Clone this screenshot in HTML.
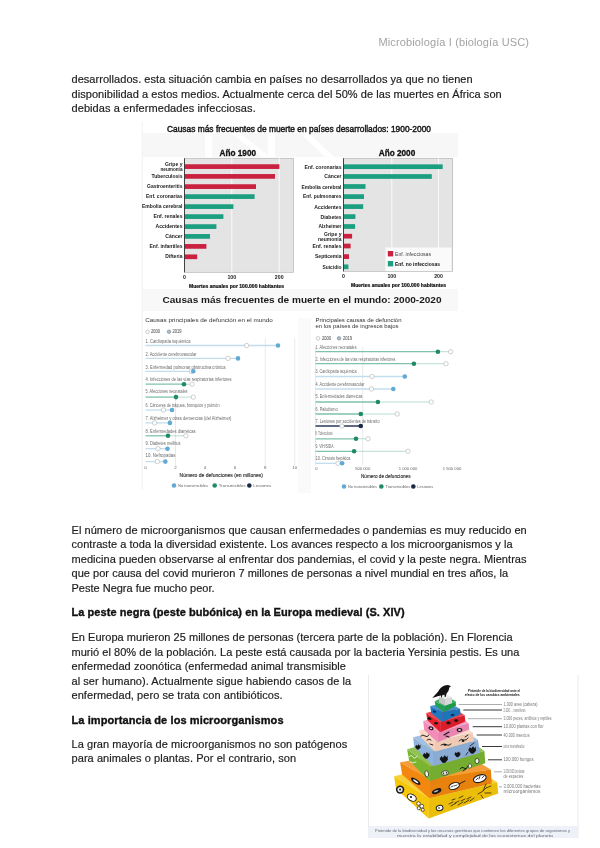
<!DOCTYPE html>
<html><head><meta charset="utf-8">
<style>
html,body{margin:0;padding:0;background:#fff;}
body{width:600px;height:848px;position:relative;overflow:hidden;font-family:"Liberation Sans",sans-serif;}
.t{position:absolute;left:71.5px;font-size:11px;line-height:14px;white-space:pre;color:#1c1c1c;-webkit-text-stroke:0.18px #1c1c1c;}
.b{font-weight:bold;color:#111;-webkit-text-stroke:0.35px #111;}
.hdr{position:absolute;left:378.5px;top:35px;font-size:11px;line-height:14px;white-space:pre;color:#a3a3a3;letter-spacing:0.13px;}
svg{position:absolute;left:0;top:0;}
#w{position:absolute;left:0;top:0;width:600px;height:848px;will-change:transform;}
</style></head><body>
<div id="w">
<svg width="600" height="848" viewBox="0 0 600 848" font-family="&quot;Liberation Sans&quot;, sans-serif"><rect x="142" y="121" width="316" height="370" fill="#fff"/>
<rect x="143" y="121" width="315" height="36" fill="#f7f7f8"/>
<rect x="143" y="289" width="315" height="22" fill="#f8f8f8"/>
<path d="M205,133 h7 v24 h-7 Z M231,133 h9 l30,24 h-9 Z M268,133 h7 v24 h-7 Z M300,133 h9 l25,24 h-9 Z M143,121 h315 v12 h-315 Z" fill="#fff"/>
<line x1="142.2" y1="122" x2="142.2" y2="490" stroke="#f0f0f0" stroke-width="1"/>
<text x="167" y="131.7" font-size="9.0" fill="#161616" text-anchor="start" font-weight="normal" textLength="264" lengthAdjust="spacingAndGlyphs" stroke="#161616" stroke-width="0.45">Causas más frecuentes de muerte en países desarrollados: 1900-2000</text>
<text x="237.8" y="156.1" font-size="8.6" fill="#111" text-anchor="middle" font-weight="bold" textLength="36.5" lengthAdjust="spacingAndGlyphs" stroke="#111" stroke-width="0.3">Año 1900</text>
<text x="397" y="156.1" font-size="8.6" fill="#111" text-anchor="middle" font-weight="bold" textLength="36.5" lengthAdjust="spacingAndGlyphs" stroke="#111" stroke-width="0.3">Año 2000</text>
<rect x="184.5" y="158.3" width="109" height="114" fill="#e4e4e4" stroke="#b4b4b4" stroke-width="0.7"/>
<line x1="231.8" y1="158.3" x2="231.8" y2="272.3" stroke="#f9f9f9" stroke-width="1"/>
<line x1="279.2" y1="158.3" x2="279.2" y2="272.3" stroke="#f9f9f9" stroke-width="1"/>
<rect x="184.5" y="164.25" width="94.9" height="4.7" fill="#c9213f"/>
<rect x="184.5" y="174.05" width="90.5" height="4.7" fill="#c9213f"/>
<rect x="184.5" y="184.25" width="71.5" height="4.7" fill="#c9213f"/>
<rect x="184.5" y="194.25" width="70.1" height="4.7" fill="#1c9e80"/>
<rect x="184.5" y="204.25" width="48.9" height="4.7" fill="#1c9e80"/>
<rect x="184.5" y="214.25" width="38.9" height="4.7" fill="#1c9e80"/>
<rect x="184.5" y="224.25" width="31.9" height="4.7" fill="#1c9e80"/>
<rect x="184.5" y="234.05" width="25.5" height="4.7" fill="#1c9e80"/>
<rect x="184.5" y="244.05" width="21.9" height="4.7" fill="#c9213f"/>
<rect x="184.5" y="254.45" width="12.7" height="4.7" fill="#c9213f"/>
<line x1="184.5" y1="158.3" x2="184.5" y2="272.3" stroke="#333" stroke-width="0.9"/>
<text x="182.5" y="165.8" font-size="5.2" fill="#222" text-anchor="end" font-weight="bold" textLength="17.5" lengthAdjust="spacingAndGlyphs">Gripe y</text>
<text x="182.5" y="171.4" font-size="5.2" fill="#222" text-anchor="end" font-weight="bold" textLength="22" lengthAdjust="spacingAndGlyphs">neumonía</text>
<text x="182.5" y="178.20000000000002" font-size="5.2" fill="#222" text-anchor="end" font-weight="bold" textLength="31" lengthAdjust="spacingAndGlyphs">Tuberculosis</text>
<text x="182.5" y="188.4" font-size="5.2" fill="#222" text-anchor="end" font-weight="bold" textLength="35.5" lengthAdjust="spacingAndGlyphs">Gastroenteritis</text>
<text x="182.5" y="198.4" font-size="5.2" fill="#222" text-anchor="end" font-weight="bold" textLength="36.5" lengthAdjust="spacingAndGlyphs">Enf. coronarias</text>
<text x="182.5" y="208.4" font-size="5.2" fill="#222" text-anchor="end" font-weight="bold" textLength="40.5" lengthAdjust="spacingAndGlyphs">Embolia cerebral</text>
<text x="182.5" y="218.4" font-size="5.2" fill="#222" text-anchor="end" font-weight="bold" textLength="29" lengthAdjust="spacingAndGlyphs">Enf. renales</text>
<text x="182.5" y="228.4" font-size="5.2" fill="#222" text-anchor="end" font-weight="bold" textLength="27" lengthAdjust="spacingAndGlyphs">Accidentes</text>
<text x="182.5" y="238.20000000000002" font-size="5.2" fill="#222" text-anchor="end" font-weight="bold" textLength="17.2" lengthAdjust="spacingAndGlyphs">Cáncer</text>
<text x="182.5" y="248.20000000000002" font-size="5.2" fill="#222" text-anchor="end" font-weight="bold" textLength="33" lengthAdjust="spacingAndGlyphs">Enf. infantiles</text>
<text x="182.5" y="258.40000000000003" font-size="5.2" fill="#222" text-anchor="end" font-weight="bold" textLength="17.2" lengthAdjust="spacingAndGlyphs">Difteria</text>
<text x="184.5" y="279.3" font-size="5.2" fill="#222" text-anchor="middle" font-weight="bold">0</text>
<text x="231.8" y="279.3" font-size="5.2" fill="#222" text-anchor="middle" font-weight="bold">100</text>
<text x="279.2" y="279.3" font-size="5.2" fill="#222" text-anchor="middle" font-weight="bold">200</text>
<text x="189" y="287.90000000000003" font-size="5.0" fill="#111" text-anchor="start" font-weight="bold" textLength="95" lengthAdjust="spacingAndGlyphs" stroke="#111" stroke-width="0.2">Muertes anuales por 100.000 habitantes</text>
<rect x="343.5" y="158.3" width="109" height="113" fill="#e4e4e4" stroke="#b4b4b4" stroke-width="0.7"/>
<line x1="391.8" y1="158.3" x2="391.8" y2="271.3" stroke="#f9f9f9" stroke-width="1"/>
<line x1="438.5" y1="158.3" x2="438.5" y2="271.3" stroke="#f9f9f9" stroke-width="1"/>
<rect x="343.5" y="164.35" width="99.2" height="4.7" fill="#1c9e80"/>
<rect x="343.5" y="174.15" width="88.3" height="4.7" fill="#1c9e80"/>
<rect x="343.5" y="184.15" width="22.0" height="4.7" fill="#1c9e80"/>
<rect x="343.5" y="194.25" width="20.5" height="4.7" fill="#1c9e80"/>
<rect x="343.5" y="204.25" width="19.7" height="4.7" fill="#1c9e80"/>
<rect x="343.5" y="214.25" width="11.9" height="4.7" fill="#1c9e80"/>
<rect x="343.5" y="224.15" width="11.6" height="4.7" fill="#1c9e80"/>
<rect x="343.5" y="233.85" width="8.6" height="4.7" fill="#c9213f"/>
<rect x="343.5" y="243.65" width="7.1" height="4.7" fill="#c9213f"/>
<rect x="343.5" y="254.25" width="5.5" height="4.7" fill="#c9213f"/>
<rect x="343.5" y="264.45" width="4.9" height="4.7" fill="#1c9e80"/>
<line x1="343.5" y1="158.3" x2="343.5" y2="271.3" stroke="#333" stroke-width="0.9"/>
<text x="341.5" y="168.70000000000002" font-size="5.2" fill="#222" text-anchor="end" font-weight="bold" textLength="37" lengthAdjust="spacingAndGlyphs">Enf. coronarias</text>
<text x="341.5" y="178.20000000000002" font-size="5.2" fill="#222" text-anchor="end" font-weight="bold" textLength="17.2" lengthAdjust="spacingAndGlyphs">Cáncer</text>
<text x="341.5" y="188.60000000000002" font-size="5.2" fill="#222" text-anchor="end" font-weight="bold" textLength="40" lengthAdjust="spacingAndGlyphs">Embolia cerebral</text>
<text x="341.5" y="198.4" font-size="5.2" fill="#222" text-anchor="end" font-weight="bold" textLength="38.5" lengthAdjust="spacingAndGlyphs">Enf. pulmonares</text>
<text x="341.5" y="208.60000000000002" font-size="5.2" fill="#222" text-anchor="end" font-weight="bold" textLength="27.3" lengthAdjust="spacingAndGlyphs">Accidentes</text>
<text x="341.5" y="218.5" font-size="5.2" fill="#222" text-anchor="end" font-weight="bold" textLength="21" lengthAdjust="spacingAndGlyphs">Diabetes</text>
<text x="341.5" y="228.3" font-size="5.2" fill="#222" text-anchor="end" font-weight="bold" textLength="23" lengthAdjust="spacingAndGlyphs">Alzheimer</text>
<text x="341.5" y="235.60000000000002" font-size="5.2" fill="#222" text-anchor="end" font-weight="bold" textLength="17.5" lengthAdjust="spacingAndGlyphs">Gripe y</text>
<text x="341.5" y="241.20000000000002" font-size="5.2" fill="#222" text-anchor="end" font-weight="bold" textLength="23.5" lengthAdjust="spacingAndGlyphs">neumonía</text>
<text x="341.5" y="248.0" font-size="5.2" fill="#222" text-anchor="end" font-weight="bold" textLength="29" lengthAdjust="spacingAndGlyphs">Enf. renales</text>
<text x="341.5" y="258.40000000000003" font-size="5.2" fill="#222" text-anchor="end" font-weight="bold" textLength="26.5" lengthAdjust="spacingAndGlyphs">Septicemia</text>
<text x="341.5" y="268.8" font-size="5.2" fill="#222" text-anchor="end" font-weight="bold" textLength="19" lengthAdjust="spacingAndGlyphs">Suicidio</text>
<text x="343.5" y="278.3" font-size="5.2" fill="#222" text-anchor="middle" font-weight="bold">0</text>
<text x="391.8" y="278.3" font-size="5.2" fill="#222" text-anchor="middle" font-weight="bold">100</text>
<text x="438.5" y="278.3" font-size="5.2" fill="#222" text-anchor="middle" font-weight="bold">200</text>
<text x="351" y="286.90000000000003" font-size="5.0" fill="#111" text-anchor="start" font-weight="bold" textLength="95" lengthAdjust="spacingAndGlyphs" stroke="#111" stroke-width="0.2">Muertes anuales por 100.000 habitantes</text>
<rect x="385.5" y="247.5" width="66" height="23.5" fill="#fafafa"/>
<rect x="387.8" y="251" width="5.4" height="5.4" fill="#c9213f"/>
<rect x="387.8" y="261" width="5.4" height="5.4" fill="#1c9e80"/>
<text x="395" y="255.6" font-size="4.8" fill="#444" text-anchor="start" font-weight="normal" textLength="36" lengthAdjust="spacingAndGlyphs">Enf. infecciosas</text>
<text x="395" y="265.6" font-size="5.0" fill="#111" text-anchor="start" font-weight="bold" textLength="45" lengthAdjust="spacingAndGlyphs">Enf. no infecciosas</text>
<rect x="298" y="318" width="13" height="175" fill="#fafafa"/>
<text x="162.5" y="303.1" font-size="9.3" fill="#1a1a1a" text-anchor="start" font-weight="bold" textLength="279" lengthAdjust="spacingAndGlyphs">Causas más frecuentes de muerte en el mundo: 2000-2020</text>
<text x="145.3" y="321.6" font-size="6.0" fill="#333" text-anchor="start" font-weight="normal" textLength="127.5" lengthAdjust="spacingAndGlyphs">Causas principales de defunción en el mundo</text>
<circle cx="147.5" cy="331.7" r="1.8" fill="#fff" stroke="#999" stroke-width="0.5"/>
<text x="151" y="333.3" font-size="4.6" fill="#666" text-anchor="start" font-weight="normal" textLength="9" lengthAdjust="spacingAndGlyphs" stroke="#666" stroke-width="0.1">2000</text>
<circle cx="169" cy="331.7" r="1.8" fill="#9bbfd8" stroke="#777" stroke-width="0.5"/>
<text x="172.5" y="333.3" font-size="4.6" fill="#666" text-anchor="start" font-weight="normal" textLength="9" lengthAdjust="spacingAndGlyphs" stroke="#666" stroke-width="0.1">2019</text>
<line x1="175.5" y1="392" x2="175.5" y2="466" stroke="#dcdcdc" stroke-width="0.6"/>
<line x1="265.3" y1="338" x2="265.3" y2="466" stroke="#dcdcdc" stroke-width="0.6"/>
<line x1="294.7" y1="338" x2="294.7" y2="466" stroke="#dcdcdc" stroke-width="0.6"/>
<text x="145.5" y="342.6" font-size="4.8" fill="#6a6a6a" text-anchor="start" font-weight="normal" textLength="45" lengthAdjust="spacingAndGlyphs">1. Cardiopatía isquémica</text>
<line x1="145.5" y1="345.5" x2="278" y2="345.5" stroke="#c2ddee" stroke-width="1.3"/>
<circle cx="246.7" cy="345.5" r="2.2" fill="#fff" stroke="#b0b0b0" stroke-width="0.6"/>
<circle cx="278" cy="345.5" r="2.3" fill="#62a9d4"/>
<text x="145.5" y="355.90000000000003" font-size="4.8" fill="#6a6a6a" text-anchor="start" font-weight="normal" textLength="51" lengthAdjust="spacingAndGlyphs">2. Accidente cerebrovascular</text>
<line x1="145.5" y1="358.4" x2="238" y2="358.4" stroke="#c2ddee" stroke-width="1.3"/>
<circle cx="228" cy="358.4" r="2.2" fill="#fff" stroke="#b0b0b0" stroke-width="0.6"/>
<circle cx="238" cy="358.4" r="2.3" fill="#62a9d4"/>
<text x="145.5" y="368.5" font-size="4.8" fill="#6a6a6a" text-anchor="start" font-weight="normal" textLength="80" lengthAdjust="spacingAndGlyphs">3. Enfermedad pulmonar obstructiva crónica</text>
<line x1="145.5" y1="371.3" x2="193.3" y2="371.3" stroke="#c2ddee" stroke-width="1.3"/>
<circle cx="191.5" cy="371.3" r="2.2" fill="#fff" stroke="#b0b0b0" stroke-width="0.6"/>
<circle cx="193.3" cy="371.3" r="2.3" fill="#62a9d4"/>
<text x="145.5" y="381.3" font-size="4.8" fill="#6a6a6a" text-anchor="start" font-weight="normal" textLength="86" lengthAdjust="spacingAndGlyphs">4. Infecciones de las vías respiratorias inferiores</text>
<line x1="145.5" y1="384.2" x2="184" y2="384.2" stroke="#7fc3a9" stroke-width="1.3"/>
<line x1="184" y1="384.2" x2="192" y2="384.2" stroke="#7fc3a9" stroke-width="0.7" opacity="0.8"/>
<circle cx="192" cy="384.2" r="2.2" fill="#fff" stroke="#b0b0b0" stroke-width="0.6"/>
<circle cx="184" cy="384.2" r="2.3" fill="#1f8a68"/>
<text x="145.5" y="393.3" font-size="4.8" fill="#6a6a6a" text-anchor="start" font-weight="normal" textLength="42" lengthAdjust="spacingAndGlyphs">5. Afecciones neonatales</text>
<line x1="145.5" y1="397.1" x2="176" y2="397.1" stroke="#7fc3a9" stroke-width="1.3"/>
<line x1="176" y1="397.1" x2="193.3" y2="397.1" stroke="#7fc3a9" stroke-width="0.7" opacity="0.8"/>
<circle cx="193.3" cy="397.1" r="2.2" fill="#fff" stroke="#b0b0b0" stroke-width="0.6"/>
<circle cx="176" cy="397.1" r="2.3" fill="#1f8a68"/>
<text x="145.5" y="407.1" font-size="4.8" fill="#6a6a6a" text-anchor="start" font-weight="normal" textLength="74" lengthAdjust="spacingAndGlyphs">6. Cánceres de tráquea, bronquios y pulmón</text>
<line x1="145.5" y1="410" x2="172" y2="410" stroke="#c2ddee" stroke-width="1.3"/>
<circle cx="163.5" cy="410" r="2.2" fill="#fff" stroke="#b0b0b0" stroke-width="0.6"/>
<circle cx="172" cy="410" r="2.3" fill="#62a9d4"/>
<text x="145.5" y="419.6" font-size="4.8" fill="#6a6a6a" text-anchor="start" font-weight="normal" textLength="86" lengthAdjust="spacingAndGlyphs">7. Alzheimer y otras demencias (del Alzheimer)</text>
<line x1="145.5" y1="422.9" x2="169.9" y2="422.9" stroke="#c2ddee" stroke-width="1.3"/>
<circle cx="154.7" cy="422.9" r="2.2" fill="#fff" stroke="#b0b0b0" stroke-width="0.6"/>
<circle cx="169.9" cy="422.9" r="2.3" fill="#62a9d4"/>
<text x="145.5" y="432.90000000000003" font-size="4.8" fill="#6a6a6a" text-anchor="start" font-weight="normal" textLength="50" lengthAdjust="spacingAndGlyphs">8. Enfermedades diarreicas</text>
<line x1="145.5" y1="435.8" x2="168" y2="435.8" stroke="#7fc3a9" stroke-width="1.3"/>
<line x1="168" y1="435.8" x2="185.9" y2="435.8" stroke="#7fc3a9" stroke-width="0.7" opacity="0.8"/>
<circle cx="185.9" cy="435.8" r="2.2" fill="#fff" stroke="#b0b0b0" stroke-width="0.6"/>
<circle cx="168" cy="435.8" r="2.3" fill="#1f8a68"/>
<text x="145.5" y="444.90000000000003" font-size="4.8" fill="#6a6a6a" text-anchor="start" font-weight="normal" textLength="35" lengthAdjust="spacingAndGlyphs">9. Diabetes mellitus</text>
<line x1="145.5" y1="448.7" x2="167.5" y2="448.7" stroke="#c2ddee" stroke-width="1.3"/>
<circle cx="158" cy="448.7" r="2.2" fill="#fff" stroke="#b0b0b0" stroke-width="0.6"/>
<circle cx="167.5" cy="448.7" r="2.3" fill="#62a9d4"/>
<text x="145.5" y="456.90000000000003" font-size="4.8" fill="#6a6a6a" text-anchor="start" font-weight="normal" textLength="30" lengthAdjust="spacingAndGlyphs">10. Nefropatías</text>
<line x1="145.5" y1="461.6" x2="165.3" y2="461.6" stroke="#c2ddee" stroke-width="1.3"/>
<circle cx="157.3" cy="461.6" r="2.2" fill="#fff" stroke="#b0b0b0" stroke-width="0.6"/>
<circle cx="165.3" cy="461.6" r="2.3" fill="#62a9d4"/>
<text x="145.5" y="469" font-size="4.4" fill="#666" text-anchor="middle" font-weight="normal">0</text>
<text x="175.5" y="469" font-size="4.4" fill="#666" text-anchor="middle" font-weight="normal">2</text>
<text x="205" y="469" font-size="4.4" fill="#666" text-anchor="middle" font-weight="normal">4</text>
<text x="235" y="469" font-size="4.4" fill="#666" text-anchor="middle" font-weight="normal">6</text>
<text x="265.3" y="469" font-size="4.4" fill="#666" text-anchor="middle" font-weight="normal">8</text>
<text x="294.7" y="469" font-size="4.4" fill="#666" text-anchor="middle" font-weight="normal">10</text>
<text x="179.5" y="476.6" font-size="5.2" fill="#333" text-anchor="start" font-weight="normal" textLength="83.5" lengthAdjust="spacingAndGlyphs" stroke="#333" stroke-width="0.15">Número de defunciones (en millones)</text>
<circle cx="174" cy="485.5" r="2.3" fill="#62a9d4"/>
<text x="178" y="487" font-size="4.4" fill="#666" text-anchor="start" font-weight="normal" textLength="30" lengthAdjust="spacingAndGlyphs">No transmisibles</text>
<circle cx="214.7" cy="485.5" r="2.3" fill="#1f8a68"/>
<text x="218.7" y="487" font-size="4.4" fill="#666" text-anchor="start" font-weight="normal" textLength="27" lengthAdjust="spacingAndGlyphs">Transmisibles</text>
<circle cx="249.3" cy="485.5" r="2.3" fill="#1b2a47"/>
<text x="253.3" y="487" font-size="4.4" fill="#666" text-anchor="start" font-weight="normal" textLength="18" lengthAdjust="spacingAndGlyphs">Lesiones</text>
<text x="315.5" y="321.6" font-size="6.0" fill="#333" text-anchor="start" font-weight="normal" textLength="86" lengthAdjust="spacingAndGlyphs">Principales causas de defunción</text>
<text x="315.5" y="327.7" font-size="6.0" fill="#333" text-anchor="start" font-weight="normal" textLength="83" lengthAdjust="spacingAndGlyphs">en los países de ingresos bajos</text>
<circle cx="318" cy="338.3" r="1.8" fill="#fff" stroke="#999" stroke-width="0.5"/>
<text x="322" y="339.9" font-size="4.6" fill="#666" text-anchor="start" font-weight="normal" textLength="9" lengthAdjust="spacingAndGlyphs" stroke="#666" stroke-width="0.1">2000</text>
<circle cx="339" cy="338.3" r="1.8" fill="#9bbfd8" stroke="#777" stroke-width="0.5"/>
<text x="343" y="339.9" font-size="4.6" fill="#666" text-anchor="start" font-weight="normal" textLength="9" lengthAdjust="spacingAndGlyphs" stroke="#666" stroke-width="0.1">2019</text>
<line x1="315.5" y1="347" x2="315.5" y2="465" stroke="#dcdcdc" stroke-width="0.6"/>
<line x1="362.7" y1="347" x2="362.7" y2="465" stroke="#dcdcdc" stroke-width="0.6"/>
<text x="315.5" y="348.6" font-size="4.8" fill="#6a6a6a" text-anchor="start" font-weight="normal" textLength="41" lengthAdjust="spacingAndGlyphs">1. Afecciones neonatales</text>
<line x1="315.5" y1="351.7" x2="437.9" y2="351.7" stroke="#7fc3a9" stroke-width="1.3"/>
<line x1="437.9" y1="351.7" x2="450.7" y2="351.7" stroke="#7fc3a9" stroke-width="0.7" opacity="0.8"/>
<circle cx="450.7" cy="351.7" r="2.2" fill="#fff" stroke="#b0b0b0" stroke-width="0.6"/>
<circle cx="437.9" cy="351.7" r="2.3" fill="#1f8a68"/>
<text x="315.5" y="361.3" font-size="4.8" fill="#6a6a6a" text-anchor="start" font-weight="normal" textLength="80" lengthAdjust="spacingAndGlyphs">2. Infecciones de las vías respiratorias inferiores</text>
<line x1="315.5" y1="363.7" x2="413.9" y2="363.7" stroke="#7fc3a9" stroke-width="1.3"/>
<line x1="413.9" y1="363.7" x2="446" y2="363.7" stroke="#7fc3a9" stroke-width="0.7" opacity="0.8"/>
<circle cx="446" cy="363.7" r="2.2" fill="#fff" stroke="#b0b0b0" stroke-width="0.6"/>
<circle cx="413.9" cy="363.7" r="2.3" fill="#1f8a68"/>
<text x="315.5" y="372.6" font-size="4.8" fill="#6a6a6a" text-anchor="start" font-weight="normal" textLength="41" lengthAdjust="spacingAndGlyphs">3. Cardiopatía isquémica</text>
<line x1="315.5" y1="376.5" x2="404.8" y2="376.5" stroke="#c2ddee" stroke-width="1.3"/>
<circle cx="372" cy="376.5" r="2.2" fill="#fff" stroke="#b0b0b0" stroke-width="0.6"/>
<circle cx="404.8" cy="376.5" r="2.3" fill="#62a9d4"/>
<text x="315.5" y="385.8" font-size="4.8" fill="#6a6a6a" text-anchor="start" font-weight="normal" textLength="49" lengthAdjust="spacingAndGlyphs">4. Accidente cerebrovascular</text>
<line x1="315.5" y1="389" x2="393.3" y2="389" stroke="#c2ddee" stroke-width="1.3"/>
<circle cx="371.5" cy="389" r="2.2" fill="#fff" stroke="#b0b0b0" stroke-width="0.6"/>
<circle cx="393.3" cy="389" r="2.3" fill="#62a9d4"/>
<text x="315.5" y="398.3" font-size="4.8" fill="#6a6a6a" text-anchor="start" font-weight="normal" textLength="47" lengthAdjust="spacingAndGlyphs">5. Enfermedades diarreicas</text>
<line x1="315.5" y1="402" x2="377.9" y2="402" stroke="#7fc3a9" stroke-width="1.3"/>
<line x1="377.9" y1="402" x2="431.2" y2="402" stroke="#7fc3a9" stroke-width="0.7" opacity="0.8"/>
<circle cx="431.2" cy="402" r="2.2" fill="#fff" stroke="#b0b0b0" stroke-width="0.6"/>
<circle cx="377.9" cy="402" r="2.3" fill="#1f8a68"/>
<text x="315.5" y="410.8" font-size="4.8" fill="#6a6a6a" text-anchor="start" font-weight="normal" textLength="22" lengthAdjust="spacingAndGlyphs">6. Paludismo</text>
<line x1="315.5" y1="414" x2="360.8" y2="414" stroke="#7fc3a9" stroke-width="1.3"/>
<line x1="360.8" y1="414" x2="397.3" y2="414" stroke="#7fc3a9" stroke-width="0.7" opacity="0.8"/>
<circle cx="397.3" cy="414" r="2.2" fill="#fff" stroke="#b0b0b0" stroke-width="0.6"/>
<circle cx="360.8" cy="414" r="2.3" fill="#1f8a68"/>
<text x="315.5" y="423.1" font-size="4.8" fill="#6a6a6a" text-anchor="start" font-weight="normal" textLength="64" lengthAdjust="spacingAndGlyphs">7. Lesiones por accidentes de tránsito</text>
<line x1="315.5" y1="426" x2="360.8" y2="426" stroke="#2a3a58" stroke-width="1.5"/>
<circle cx="341.9" cy="426" r="2.2" fill="#fff" stroke="#b0b0b0" stroke-width="0.6"/>
<circle cx="360.8" cy="426" r="2.3" fill="#1b2a47"/>
<text x="315.5" y="435.1" font-size="4.8" fill="#6a6a6a" text-anchor="start" font-weight="normal" textLength="17" lengthAdjust="spacingAndGlyphs">8. Tuberculosis</text>
<line x1="315.5" y1="438.8" x2="356" y2="438.8" stroke="#7fc3a9" stroke-width="1.3"/>
<line x1="356" y1="438.8" x2="368" y2="438.8" stroke="#7fc3a9" stroke-width="0.7" opacity="0.8"/>
<circle cx="368" cy="438.8" r="2.2" fill="#fff" stroke="#b0b0b0" stroke-width="0.6"/>
<circle cx="356" cy="438.8" r="2.3" fill="#1f8a68"/>
<text x="315.5" y="448.1" font-size="4.8" fill="#6a6a6a" text-anchor="start" font-weight="normal" textLength="18" lengthAdjust="spacingAndGlyphs">9. VIH/SIDA</text>
<line x1="315.5" y1="451.3" x2="354.1" y2="451.3" stroke="#7fc3a9" stroke-width="1.3"/>
<line x1="354.1" y1="451.3" x2="408" y2="451.3" stroke="#7fc3a9" stroke-width="0.7" opacity="0.8"/>
<circle cx="408" cy="451.3" r="2.2" fill="#fff" stroke="#b0b0b0" stroke-width="0.6"/>
<circle cx="354.1" cy="451.3" r="2.3" fill="#1f8a68"/>
<text x="315.5" y="460.40000000000003" font-size="4.8" fill="#6a6a6a" text-anchor="start" font-weight="normal" textLength="35" lengthAdjust="spacingAndGlyphs">10. Cirrosis hepática</text>
<line x1="315.5" y1="463.3" x2="342.1" y2="463.3" stroke="#c2ddee" stroke-width="1.3"/>
<circle cx="338" cy="463.3" r="2.2" fill="#fff" stroke="#b0b0b0" stroke-width="0.6"/>
<circle cx="342.1" cy="463.3" r="2.3" fill="#62a9d4"/>
<text x="316.5" y="470.3" font-size="4.2" fill="#666" text-anchor="middle" font-weight="normal">0</text>
<text x="362.7" y="470.3" font-size="4.2" fill="#666" text-anchor="middle" font-weight="normal">500 000</text>
<text x="408" y="470.3" font-size="4.2" fill="#666" text-anchor="middle" font-weight="normal">1 000 000</text>
<text x="452" y="470.3" font-size="4.2" fill="#666" text-anchor="middle" font-weight="normal">1 500 000</text>
<text x="361" y="477.6" font-size="5.2" fill="#333" text-anchor="start" font-weight="normal" textLength="49.5" lengthAdjust="spacingAndGlyphs" stroke="#333" stroke-width="0.15">Número de defunciones</text>
<circle cx="344" cy="486.5" r="2.3" fill="#62a9d4"/>
<text x="348" y="488" font-size="4.4" fill="#666" text-anchor="start" font-weight="normal" textLength="29" lengthAdjust="spacingAndGlyphs">No transmisibles</text>
<circle cx="381.3" cy="486.5" r="2.3" fill="#1f8a68"/>
<text x="385.3" y="488" font-size="4.4" fill="#666" text-anchor="start" font-weight="normal" textLength="25" lengthAdjust="spacingAndGlyphs">Transmisibles</text>
<circle cx="413.3" cy="486.5" r="2.3" fill="#1b2a47"/>
<text x="417.3" y="488" font-size="4.4" fill="#666" text-anchor="start" font-weight="normal" textLength="16" lengthAdjust="spacingAndGlyphs">Lesiones</text>
<line x1="368.5" y1="675" x2="368.5" y2="838" stroke="#e6e6e6" stroke-width="0.8"/>
<line x1="578" y1="675" x2="578" y2="838" stroke="#e6e6e6" stroke-width="0.8"/>
<rect x="368.5" y="826" width="209.5" height="12" fill="#eef1f7"/>
<polygon points="394.1,776.3 429.2,798.3 497.3,782.3 462.2,760.3" fill="#f6d036"/>
<polygon points="394.1,776.3 396.0,788.8 428.6,818.4 429.2,798.3" fill="#f5c60a"/>
<polygon points="429.2,798.3 428.6,818.4 498.2,793.6 497.3,782.3" fill="#ebbe09"/>
<polygon points="400.1,762.2 429.2,779.3 490.8,769.4 461.7,752.3" fill="#f49d3a"/>
<polygon points="400.1,762.2 402.1,774.5 429.2,798.3 429.2,779.3" fill="#f2880f"/>
<polygon points="429.2,779.3 429.2,798.3 491.8,783.4 490.8,769.4" fill="#e8820e"/>
<polygon points="407.1,749.2 430.2,766.2 484.4,751.1 461.3,734.1" fill="#91c256"/>
<polygon points="407.1,749.2 409.1,760.6 429.6,781.3 430.2,766.2" fill="#7ab532"/>
<polygon points="430.2,766.2 429.6,781.3 485.3,763.2 484.4,751.1" fill="#75ad30"/>
<polygon points="413.1,737.2 433.2,751.4 478.0,740.1 457.9,725.9" fill="#a3c0e3"/>
<polygon points="413.1,737.2 414.1,746.6 433.2,766.2 433.2,751.4" fill="#90b3dd"/>
<polygon points="433.2,751.4 433.2,766.2 479.8,753.1 478.0,740.1" fill="#8aabd4"/>
<polygon points="419.1,730.6 435.2,742.2 472.7,732.7 456.6,721.1" fill="#fadbc8"/>
<polygon points="419.1,730.6 421.1,737.4 435.2,751.4 435.2,742.2" fill="#f9d4bd"/>
<polygon points="435.2,742.2 435.2,751.4 474.0,740.9 472.7,732.7" fill="#efcbb5"/>
<polygon points="423.2,721.1 438.2,732.2 468.7,723.3 453.7,712.2" fill="#f4a0c5"/>
<polygon points="423.2,721.1 424.2,730.1 437.4,742.2 438.2,732.2" fill="#f28cb9"/>
<polygon points="438.2,732.2 437.4,742.2 469.3,729.6 468.7,723.3" fill="#e886b1"/>
<polygon points="426.2,713.1 440.2,722.1 464.7,715.3 450.7,706.3" fill="#e84851"/>
<polygon points="426.2,713.1 427.2,720.1 440.2,732.2 440.2,722.1" fill="#e3202c"/>
<polygon points="440.2,722.1 440.2,732.2 465.3,721.6 464.7,715.3" fill="#d91e2a"/>
<polygon points="430.2,706.1 442.2,712.1 460.0,708.7 448.0,702.7" fill="#4791cb"/>
<polygon points="430.2,706.1 431.2,713.1 442.2,722.1 442.2,712.1" fill="#1f79c0"/>
<polygon points="442.2,712.1 442.2,722.1 460.7,714.2 460.0,708.7" fill="#1d74b8"/>
<polygon points="434.7,701.2 444.6,706.6 455.6,701.2 445.7,695.8" fill="#48b26a"/>
<polygon points="434.7,701.2 435.4,705.6 444.2,712.1 444.6,706.6" fill="#21a24a"/>
<polygon points="444.6,706.6 444.2,712.1 456.0,705.8 455.6,701.2" fill="#1f9b47"/>
<polygon points="439,696.5 445,699.5 452,697 452,703 445,705.5 439,702.5" fill="#c6c6c6"/>
<polygon points="445,699.5 452,697 452,703 445,705.5" fill="#d8d8d8"/>
<polygon points="439,696.5 445.5,694.2 452,697 445,699.5" fill="#ececec"/>
<path d="M432.2,697.9 L438,691.8 Q440.5,687.2 444.6,685.6 Q447.6,684.4 449.6,685.4 L451,686.6 L449.5,687.3 Q449,691 446.6,693.6 L445.6,697 L444.8,697 L444.4,694.6 L442,695.4 L441.8,697.4 L441,697.4 L441,695.6 L438.6,696 Z" fill="#121212"/>
<ellipse cx="400.1" cy="789.6" rx="4.2" ry="4.2" transform="rotate(0 400.1 789.6)" fill="#1a1a1a" stroke="none" stroke-width="0"/>
<ellipse cx="400.1" cy="789.6" rx="2.6" ry="2.6" transform="rotate(0 400.1 789.6)" fill="#e8e8f0" stroke="none" stroke-width="0"/>
<ellipse cx="400.1" cy="789.6" rx="1.1" ry="1.1" transform="rotate(0 400.1 789.6)" fill="#333" stroke="none" stroke-width="0"/>
<ellipse cx="411.8" cy="797.6" rx="4.8" ry="3.2" transform="rotate(30 411.8 797.6)" fill="#fff" stroke="#1a1a1a" stroke-width="1.0"/>
<ellipse cx="411" cy="797" rx="1.2" ry="1" transform="rotate(0 411 797)" fill="#222" stroke="none" stroke-width="0"/>
<ellipse cx="418.5" cy="803.5" rx="1.8" ry="1.8" transform="rotate(0 418.5 803.5)" fill="#fff" stroke="#222" stroke-width="0.7"/>
<ellipse cx="421.8" cy="806.2" rx="1.9" ry="1.9" transform="rotate(0 421.8 806.2)" fill="#fff" stroke="#222" stroke-width="0.7"/>
<ellipse cx="418.8" cy="808.2" rx="1.6" ry="1.6" transform="rotate(0 418.8 808.2)" fill="#fff" stroke="#222" stroke-width="0.7"/>
<ellipse cx="422.8" cy="809.8" rx="1.5" ry="1.5" transform="rotate(0 422.8 809.8)" fill="#fff" stroke="#222" stroke-width="0.7"/>
<ellipse cx="439.6" cy="808" rx="3.4" ry="2.6" transform="rotate(-15 439.6 808)" fill="#fff" stroke="#1a1a1a" stroke-width="1.0"/>
<ellipse cx="439" cy="808" rx="1" ry="0.8" transform="rotate(0 439 808)" fill="#333" stroke="none" stroke-width="0"/>
<path d="M449,804 l4,-2 M451,806 l5,-3 M455,803 l4,-2 M458,805 l5,-3 M461,801 l4,-2 M464,803 l5,-3 M467,799 l4,-2 M470,801 l4,-3 M452,800 l3,-1 M459,798 l4,-2" stroke="#2a1e0a" stroke-width="0.8" fill="none" stroke-linecap="round"/>
<path d="M478,794 q5,-2 8,-6 M483,791 l3,-7 M486,788 l5,-2 M485,793 l6,0 M481,795 l2,3" stroke="#4a3410" stroke-width="0.9" fill="none" stroke-linecap="round"/>
<ellipse cx="415.7" cy="781.3" rx="5.6" ry="2.2" transform="rotate(35 415.7 781.3)" fill="#1a1a1a" stroke="none" stroke-width="0"/>
<ellipse cx="415.7" cy="781.3" rx="3.2" ry="0.9" transform="rotate(35 415.7 781.3)" fill="#f0f0f0" stroke="none" stroke-width="0"/>
<ellipse cx="436.7" cy="791.2" rx="5" ry="2.4" transform="rotate(-22 436.7 791.2)" fill="#1a1a1a" stroke="none" stroke-width="0"/>
<ellipse cx="436.2" cy="791.2" rx="2.4" ry="0.8" transform="rotate(-22 436.2 791.2)" fill="#bbb" stroke="none" stroke-width="0"/>
<ellipse cx="454.2" cy="786" rx="5.4" ry="3.2" transform="rotate(-20 454.2 786)" fill="#fff" stroke="#1a1a1a" stroke-width="1.0"/>
<path d="M451,787 l2,-1 M454,786 l3,-1" stroke="#141414" stroke-width="0.7" fill="none" stroke-linecap="round"/>
<path d="M459,784 l6,-3" stroke="#141414" stroke-width="0.9" fill="none" stroke-linecap="round"/>
<ellipse cx="479.8" cy="778.6" rx="6.6" ry="3.6" transform="rotate(-18 479.8 778.6)" fill="#fff" stroke="#1a1a1a" stroke-width="1.1"/>
<path d="M476,780 l2,-2 M479,779 l1,-3 M482,778 l2,-2" stroke="#141414" stroke-width="0.8" fill="none" stroke-linecap="round"/>
<path d="M409,757 q2,-3 4,0 q2,3 4,-1 M410,762 q3,2 6,0" stroke="#f6f6e8" stroke-width="0.8" fill="none" stroke-linecap="round"/>
<ellipse cx="426.7" cy="773.8" rx="1.8" ry="3.2" transform="rotate(-10 426.7 773.8)" fill="#f6f6e8" stroke="#222" stroke-width="0.7"/>
<ellipse cx="445" cy="773" rx="3.6" ry="2.2" transform="rotate(-10 445 773)" fill="#f6f6e8" stroke="#222" stroke-width="0.7"/>
<ellipse cx="443.5" cy="773.3" rx="0.8" ry="0.8" transform="rotate(0 443.5 773.3)" fill="#222" stroke="none" stroke-width="0"/>
<ellipse cx="446.5" cy="772.7" rx="0.8" ry="0.8" transform="rotate(0 446.5 772.7)" fill="#222" stroke="none" stroke-width="0"/>
<path d="M460,769 q2,-3 4,-1 q2,2 4,-2 M463,771 l3,-2" stroke="#141414" stroke-width="0.9" fill="none" stroke-linecap="round"/>
<ellipse cx="470" cy="766" rx="1.6" ry="2.2" transform="rotate(0 470 766)" fill="#f6f6e8" stroke="#222" stroke-width="0.6"/>
<ellipse cx="477" cy="761" rx="2" ry="2.6" transform="rotate(0 477 761)" fill="#f6f6e8" stroke="#222" stroke-width="0.7"/>
<path d="M415.1,746.98 l1.2,-2.16 l0.96,1.2 l1.2,-1.68 l1.2,1.44 l0.72,-1.2 l0.24,2.88 l-1.92,2.16 l-1.68,-0.24 Z" fill="#141414"/>
<path d="M422.7,755.4 l1.5,-2.7 l1.2000000000000002,1.5 l1.5,-2.0999999999999996 l1.5,1.7999999999999998 l0.8999999999999999,-1.5 l0.30000000000000004,3.5999999999999996 l-2.4000000000000004,2.7 l-2.0999999999999996,-0.30000000000000004 Z" fill="#141414"/>
<path d="M439.59999999999997,759.12 l1.8,-3.24 l1.4400000000000002,1.8 l1.8,-2.52 l1.8,2.16 l1.08,-1.8 l0.36000000000000004,4.32 l-2.8800000000000003,3.24 l-2.52,-0.36000000000000004 Z" fill="#141414"/>
<path d="M454.4,754.3199999999999 l1.3,-2.3400000000000003 l1.04,1.3 l1.3,-1.8199999999999998 l1.3,1.56 l0.78,-1.3 l0.26,3.12 l-2.08,2.3400000000000003 l-1.8199999999999998,-0.26 Z" fill="#141414"/>
<path d="M468.20000000000005,749.9799999999999 l1.7,-3.06 l1.36,1.7 l1.7,-2.38 l1.7,2.04 l1.02,-1.7 l0.34,4.08 l-2.72,3.06 l-2.38,-0.34 Z" fill="#141414"/>
<path d="M470,746 l4,-3 M468,752 l-2,3" stroke="#141414" stroke-width="0.8" fill="none" stroke-linecap="round"/>
<path d="M421,736 q2,-2 4,0 q2,2 4,-1 M427,740 q2,-2 4,0 M441,745 q3,-2 6,0 q2,1 4,-1 M459,741 q2,-3 5,-1 q2,1 4,-2 M465,737 l3,-2 M430,744 l3,1" stroke="#141414" stroke-width="0.9" fill="none" stroke-linecap="round"/>
<ellipse cx="445" cy="744.7" rx="1.6" ry="1" transform="rotate(0 445 744.7)" fill="#141414" stroke="none" stroke-width="0"/>
<ellipse cx="463" cy="741" rx="1.4" ry="1" transform="rotate(0 463 741)" fill="#141414" stroke="none" stroke-width="0"/>
<ellipse cx="431" cy="728.3" rx="2.6" ry="1.8" transform="rotate(20 431 728.3)" fill="#1a1a1a" stroke="none" stroke-width="0"/>
<ellipse cx="431" cy="728.3" rx="1.2" ry="0.8" transform="rotate(20 431 728.3)" fill="#f7c6dc" stroke="none" stroke-width="0"/>
<path d="M444,735 l5,-3 M446,736 l3,1" stroke="#141414" stroke-width="1.1" fill="none" stroke-linecap="round"/>
<ellipse cx="459.5" cy="730" rx="2.8" ry="1.9" transform="rotate(0 459.5 730)" fill="#1a1a1a" stroke="none" stroke-width="0"/>
<ellipse cx="459.5" cy="730" rx="1.4" ry="0.9" transform="rotate(0 459.5 730)" fill="#f7c6dc" stroke="none" stroke-width="0"/>
<ellipse cx="429.5" cy="718.5" rx="2" ry="1.4" transform="rotate(20 429.5 718.5)" fill="#151515" stroke="none" stroke-width="0"/>
<ellipse cx="436" cy="723.3" rx="1.8" ry="1.3" transform="rotate(0 436 723.3)" fill="#151515" stroke="none" stroke-width="0"/>
<ellipse cx="448.5" cy="723" rx="2.2" ry="1.4" transform="rotate(0 448.5 723)" fill="#151515" stroke="none" stroke-width="0"/>
<ellipse cx="456.2" cy="720.6" rx="2" ry="1.4" transform="rotate(0 456.2 720.6)" fill="#151515" stroke="none" stroke-width="0"/>
<ellipse cx="434.5" cy="711.6" rx="1.8" ry="1.1" transform="rotate(20 434.5 711.6)" fill="#10305a" stroke="none" stroke-width="0"/>
<ellipse cx="452.5" cy="715" rx="2" ry="1.1" transform="rotate(-10 452.5 715)" fill="#10305a" stroke="none" stroke-width="0"/>
<text x="468" y="691.5" font-size="4.4" fill="#111" text-anchor="start" font-weight="bold" textLength="52" lengthAdjust="spacingAndGlyphs">Pirámide de la biodiversidad ante el</text>
<text x="464.7" y="696.3" font-size="4.4" fill="#111" text-anchor="start" font-weight="bold" textLength="55" lengthAdjust="spacingAndGlyphs">efecto de los cambios ambientales</text>
<line x1="458.7" y1="704.5" x2="502" y2="704.5" stroke="#8a8a8a" stroke-width="0.7"/>
<text x="503.5" y="706.0" font-size="4.5" fill="#777" text-anchor="start" font-weight="normal" textLength="34" lengthAdjust="spacingAndGlyphs">1.000 aves (cabeza)</text>
<line x1="463.3" y1="710" x2="502" y2="710" stroke="#222" stroke-width="0.9"/>
<text x="503.5" y="711.5" font-size="4.5" fill="#777" text-anchor="start" font-weight="normal" textLength="22" lengthAdjust="spacingAndGlyphs">2.000 ... mamíferos</text>
<line x1="468" y1="718.7" x2="502" y2="718.7" stroke="#8a8a8a" stroke-width="0.7"/>
<text x="503.5" y="720.2" font-size="4.5" fill="#777" text-anchor="start" font-weight="normal" textLength="48" lengthAdjust="spacingAndGlyphs">3.000 peces, anfibios y reptiles</text>
<line x1="472.7" y1="726.7" x2="502" y2="726.7" stroke="#222" stroke-width="0.9"/>
<text x="503.5" y="728.2" font-size="4.5" fill="#777" text-anchor="start" font-weight="normal" textLength="40" lengthAdjust="spacingAndGlyphs">10.000 plantas con flor</text>
<line x1="476.7" y1="735" x2="502" y2="735" stroke="#222" stroke-width="0.9"/>
<text x="503.5" y="736.5" font-size="4.5" fill="#777" text-anchor="start" font-weight="normal" textLength="26" lengthAdjust="spacingAndGlyphs">40.000 insectos</text>
<line x1="482" y1="746.5" x2="502" y2="746.5" stroke="#222" stroke-width="0.9"/>
<text x="503.5" y="748.0" font-size="4.5" fill="#777" text-anchor="start" font-weight="normal" textLength="21" lengthAdjust="spacingAndGlyphs">otros invertebrados</text>
<line x1="488" y1="759.8" x2="502" y2="759.8" stroke="#222" stroke-width="0.9"/>
<text x="503.5" y="761.3" font-size="4.5" fill="#777" text-anchor="start" font-weight="normal" textLength="30" lengthAdjust="spacingAndGlyphs">100.000 hongos</text>
<line x1="494" y1="771.8" x2="502" y2="771.8" stroke="#8a8a8a" stroke-width="0.7"/>
<text x="503.5" y="773.3" font-size="4.5" fill="#777" text-anchor="start" font-weight="normal" textLength="21" lengthAdjust="spacingAndGlyphs">1.000.000 protistas</text>
<line x1="499" y1="786.8" x2="502" y2="786.8" stroke="#8a8a8a" stroke-width="0.7"/>
<text x="503.5" y="788.3" font-size="4.5" fill="#777" text-anchor="start" font-weight="normal" textLength="37" lengthAdjust="spacingAndGlyphs">3.000.000 bacterias</text>
<text x="503.5" y="777.5" font-size="4.5" fill="#777" text-anchor="start" font-weight="normal" textLength="20" lengthAdjust="spacingAndGlyphs">de especies</text>
<text x="503.5" y="792.5" font-size="4.5" fill="#777" text-anchor="start" font-weight="normal" textLength="37" lengthAdjust="spacingAndGlyphs">microorganismos</text>
<text x="375" y="832" font-size="3.6" fill="#667" text-anchor="start" font-weight="normal" textLength="195" lengthAdjust="spacingAndGlyphs">Pirámide de la biodiversidad y los recursos genéticos que contienen los diferentes grupos de organismos y</text>
<text x="397" y="837" font-size="3.6" fill="#667" text-anchor="start" font-weight="normal" textLength="156" lengthAdjust="spacingAndGlyphs">muestra la estabilidad y complejidad de los ecosistemas del planeta</text></svg>
<div class="hdr">Microbiología I (biología USC)</div>
<div class="t" style="top:71.9px;letter-spacing:0.046px">desarrollados. esta situación cambia en países no desarrollados ya que no tienen</div>
<div class="t" style="top:86.9px;letter-spacing:0.055px">disponibilidad a estos medios. Actualmente cerca del 50% de las muertes en África son</div>
<div class="t" style="top:101.3px;letter-spacing:0.076px">debidas a enfermedades infecciosas.</div>
<div class="t" style="top:522.5px;letter-spacing:0.056px">El número de microorganismos que causan enfermedades o pandemias es muy reducido en</div>
<div class="t" style="top:537.0px;letter-spacing:0.044px">contraste a toda la diversidad existente. Los avances respecto a los microorganismos y la</div>
<div class="t" style="top:551.5px;letter-spacing:0.049px">medicina pueden observarse al enfrentar dos pandemias, el covid y la peste negra. Mientras</div>
<div class="t" style="top:566.0px;letter-spacing:0.036px">que por causa del covid murieron 7 millones de personas a nivel mundial en tres años, la</div>
<div class="t" style="top:580.5px;letter-spacing:0.0px">Peste Negra fue mucho peor.</div>
<div class="t b" style="top:604.8px;letter-spacing:0.059px">La peste negra (peste bubónica) en la Europa medieval (S. XIV)</div>
<div class="t" style="top:630.2px;letter-spacing:0.03px">En Europa murieron 25 millones de personas (tercera parte de la población). En Florencia</div>
<div class="t" style="top:644.9px;letter-spacing:0.037px">murió el 80% de la población. La peste está causada por la bacteria Yersinia pestis. Es una</div>
<div class="t" style="top:659.1px;letter-spacing:0.059px">enfermedad zoonótica (enfermedad animal transmisible</div>
<div class="t" style="top:673.8px;letter-spacing:0.062px">al ser humano). Actualmente sigue habiendo casos de la</div>
<div class="t" style="top:688.0px;letter-spacing:0.062px">enfermedad, pero se trata con antibióticos.</div>
<div class="t b" style="top:713.1px;letter-spacing:0.1px">La importancia de los microorganismos</div>
<div class="t" style="top:737.4px;letter-spacing:0.06px">La gran mayoría de microorganismos no son patógenos</div>
<div class="t" style="top:751.3px;letter-spacing:0.071px">para animales o plantas. Por el contrario, son</div>
</div>
</body></html>
